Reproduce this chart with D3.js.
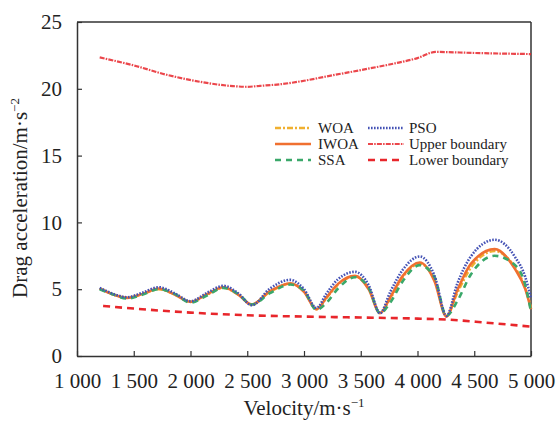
<!DOCTYPE html>
<html>
<head>
<meta charset="utf-8">
<script src="https://cdn.jsdelivr.net/npm/d3@7"></script>
<style>
  body { margin: 0; background: #fff; }
  text { font-family: "Liberation Serif", "Times New Roman", serif; fill: #222; }
</style>
</head>
<body>
<div id="chart"></div>
<script>
// velocity grid shared by the four algorithm curves (m/s)
const velocity = [1200, 1320, 1440, 1580, 1720, 1860, 2000, 2150, 2290, 2420, 2540, 2700, 2880, 3000, 3110,
  3200, 3300, 3450, 3570, 3670, 3760, 3870, 4020, 4150, 4255, 4350, 4470, 4680, 4860, 4950, 5000];

const woa  = [5.05, 4.6, 4.35, 4.65, 5.0, 4.6, 4.05, 4.6, 5.1, 4.6, 3.85, 4.8, 5.4, 4.85, 3.5,
  4.35, 5.35, 5.95, 5.05, 3.25, 4.3, 5.9, 6.9, 5.7, 3.0, 4.7, 6.6, 7.85, 6.6, 5.1, 3.6];
const iwoa = [5.05, 4.6, 4.35, 4.65, 5.05, 4.6, 4.05, 4.65, 5.15, 4.6, 3.85, 4.85, 5.45, 4.8, 3.5,
  4.4, 5.4, 6.0, 5.0, 3.2, 4.4, 6.0, 7.0, 5.6, 2.95, 4.9, 6.9, 8.0, 6.5, 5.0, 3.5];
const ssa  = [5.0, 4.6, 4.3, 4.6, 5.0, 4.65, 4.0, 4.55, 5.1, 4.65, 3.85, 4.7, 5.35, 4.9, 3.45,
  4.0, 5.05, 5.9, 5.1, 3.2, 4.0, 5.6, 6.8, 5.9, 3.0, 4.1, 6.1, 7.5, 6.8, 5.3, 3.3];
const pso  = [5.1, 4.65, 4.4, 4.75, 5.15, 4.7, 4.1, 4.75, 5.25, 4.7, 3.8, 5.05, 5.7, 5.0, 3.6,
  4.7, 5.75, 6.3, 5.3, 3.2, 4.8, 6.45, 7.45, 6.0, 3.0, 5.4, 7.45, 8.7, 7.4, 5.9, 4.3];

// boundaries
const upperV = [1200, 1500, 1790, 2100, 2374, 2500, 2612, 2800, 3000, 3200, 3500, 3787, 4000, 4160, 4500, 5000];
const upper  = [22.35, 21.75, 21.05, 20.5, 20.2, 20.15, 20.22, 20.35, 20.6, 20.93, 21.4, 21.88, 22.3, 22.76, 22.68, 22.6];
const lowerV = [1230, 1500, 2000, 2500, 3000, 3500, 4000, 4250, 4600, 5000];
const lower  = [3.75, 3.55, 3.25, 3.05, 2.95, 2.88, 2.8, 2.73, 2.5, 2.2];

// ticks
const xTicks = [1000, 1500, 2000, 2500, 3000, 3500, 4000, 4500, 5000];
const yTicks = [0, 5, 10, 15, 20, 25];

const W = 556, H = 421;
const MARGIN = { TOP: 22, BOTTOM: 65, LEFT: 77, RIGHT: 25 };
const WIDTH = W - MARGIN.LEFT - MARGIN.RIGHT;
const HEIGHT = H - MARGIN.TOP - MARGIN.BOTTOM;

const svg = d3.select("#chart").append("svg")
    .attr("width", W)
    .attr("height", H);

const g = svg.append("g")
    .attr("transform", `translate(${MARGIN.LEFT}, ${MARGIN.TOP})`);

const x = d3.scaleLinear().domain([1000, 5000]).range([0, WIDTH]);
const y = d3.scaleLinear().domain([0, 25]).range([HEIGHT, 0]);

const axisColor = "#333";
const fmt = d => d3.format(",")(d).replace(",", " ");

// x axis, ticks pointing inward
const xAxis = g.append("g")
    .attr("transform", `translate(0, ${HEIGHT})`)
    .call(d3.axisBottom(x).tickValues(xTicks).tickSizeInner(-5).tickSizeOuter(0).tickFormat(fmt));
xAxis.select(".domain").attr("stroke", axisColor).attr("stroke-width", 1.5);
xAxis.selectAll(".tick line").attr("stroke", axisColor).attr("stroke-width", 1.2);
xAxis.selectAll(".tick text")
    .attr("y", 32).attr("dy", 0)
    .attr("font-size", 21)
    .style("font-family", '"Liberation Serif", serif')
    .attr("fill", "#222");

// y axis, ticks pointing inward
const yAxis = g.append("g")
    .call(d3.axisLeft(y).tickValues(yTicks).tickSizeInner(-5).tickSizeOuter(0));
yAxis.select(".domain").attr("stroke", axisColor).attr("stroke-width", 1.5);
yAxis.selectAll(".tick line").attr("stroke", axisColor).attr("stroke-width", 1.2);
yAxis.selectAll(".tick text")
    .attr("x", -15)
    .attr("font-size", 21)
    .style("font-family", '"Liberation Serif", serif')
    .attr("fill", "#222");

// top and right frame
g.append("line").attr("x1", 0).attr("x2", WIDTH).attr("y1", 0).attr("y2", 0)
    .attr("stroke", axisColor).attr("stroke-width", 1.5);
g.append("line").attr("x1", WIDTH).attr("x2", WIDTH).attr("y1", 0).attr("y2", HEIGHT)
    .attr("stroke", axisColor).attr("stroke-width", 1.5);

// series styles
const series = [
    { name: "Lower boundary", v: lowerV, a: lower, color: "#e8262b", dash: "7,5", width: 2.6 },
    { name: "Upper boundary", v: upperV, a: upper, color: "#e8262b", dash: "5,1.2,1.5,1.2", width: 2.2, opacity: 0.85 },
    { name: "WOA", v: velocity, a: woa, color: "#f0b030", dash: "6,2,2,2", width: 2.4 },
    { name: "IWOA", v: velocity, a: iwoa, color: "#f07030", dash: null, width: 2.6 },
    { name: "SSA", v: velocity, a: ssa, color: "#3aa86a", dash: "6,5", width: 2.6 },
    { name: "PSO", v: velocity, a: pso, color: "#4452b5", dash: "1.6,1.4", width: 2.6 }
];

const line = d3.line()
    .x(d => x(d[0]))
    .y(d => y(d[1]))
    .curve(d3.curveMonotoneX);

series.forEach(s => {
    g.append("path")
        .datum(s.v.map((v, i) => [v, s.a[i]]))
        .attr("fill", "none")
        .attr("stroke", s.color)
        .attr("stroke-width", s.width)
        .attr("stroke-dasharray", s.dash)
        .attr("stroke-opacity", s.opacity || 1)
        .attr("d", line);
});

// legend
const legendItems = [
    { key: "WOA", col: 0, row: 0 },
    { key: "IWOA", col: 0, row: 1 },
    { key: "SSA", col: 0, row: 2 },
    { key: "PSO", col: 1, row: 0 },
    { key: "Upper boundary", col: 1, row: 1 },
    { key: "Lower boundary", col: 1, row: 2 }
];
const legend = svg.append("g").attr("transform", "translate(275, 128)");
legendItems.forEach(item => {
    const s = series.find(d => d.name === item.key);
    const lx = item.col * 93, ly = item.row * 16;
    legend.append("line")
        .attr("x1", lx).attr("x2", lx + 36)
        .attr("y1", ly).attr("y2", ly)
        .attr("stroke", s.color)
        .attr("stroke-width", s.width)
        .attr("stroke-dasharray", s.dash)
        .attr("stroke-opacity", s.opacity || 1);
    legend.append("text")
        .attr("x", lx + 43 - item.col * 2)
        .attr("y", ly + 5)
        .attr("font-size", 15)
        .text(item.key);
});

// axis titles
const xTitle = svg.append("text")
    .attr("x", MARGIN.LEFT + WIDTH / 2)
    .attr("y", 415)
    .attr("text-anchor", "middle")
    .attr("font-size", 21);
xTitle.append("tspan").text("Velocity/m·s");
xTitle.append("tspan").attr("dy", -8).attr("font-size", 13).text("−1");

const yTitle = svg.append("text")
    .attr("transform", "translate(27, 198) rotate(-90)")
    .attr("text-anchor", "middle")
    .attr("font-size", 21);
yTitle.append("tspan").text("Drag acceleration/m·s");
yTitle.append("tspan").attr("dy", -8).attr("font-size", 13).text("−2");
</script>
</body>
</html>
